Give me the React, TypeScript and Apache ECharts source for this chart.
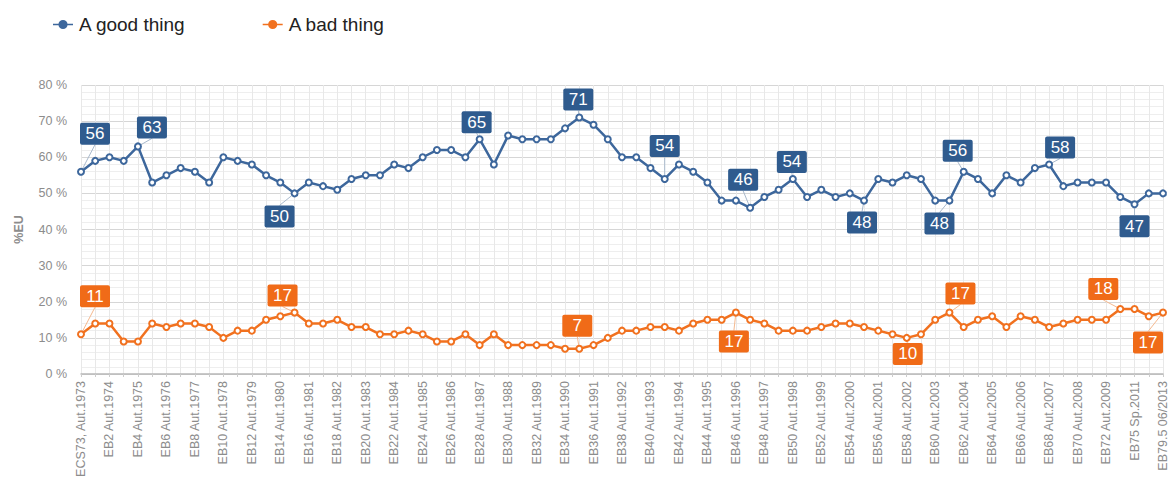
import React, { useEffect, useRef } from "react";
import * as echarts from "echarts";

const tickLabels = [
  "ECS73, Aut.1973", "EB2 Aut.1974", "EB4 Aut.1975", "EB6 Aut.1976", "EB8 Aut.1977",
  "EB10 Aut.1978", "EB12 Aut.1979", "EB14 Aut.1980", "EB16 Aut.1981", "EB18 Aut.1982",
  "EB20 Aut.1983", "EB22 Aut.1984", "EB24 Aut.1985", "EB26 Aut.1986", "EB28 Aut.1987",
  "EB30 Aut.1988", "EB32 Aut.1989", "EB34 Aut.1990", "EB36 Aut.1991", "EB38 Aut.1992",
  "EB40 Aut.1993", "EB42 Aut.1994", "EB44 Aut.1995", "EB46 Aut.1996", "EB48 Aut.1997",
  "EB50 Aut.1998", "EB52 Aut.1999", "EB54 Aut.2000", "EB56 Aut.2001", "EB58 Aut.2002",
  "EB60 Aut.2003", "EB62 Aut.2004", "EB64 Aut.2005", "EB66 Aut.2006", "EB68 Aut.2007",
  "EB70 Aut.2008", "EB72 Aut.2009", "EB75 Sp.2011", "EB79.5 06/2013",
];

const goodThing = [
  56, 59, 60, 59, 63, 53, 55, 57, 56, 53,
  60, 59, 58, 55, 53, 50, 53, 52, 51, 54,
  55, 55, 58, 57, 60, 62, 62, 60, 65, 58,
  66, 65, 65, 65, 68, 71, 69, 65, 60, 60,
  57, 54, 58, 56, 53, 48, 48, 46, 49, 51,
  54, 49, 51, 49, 50, 48, 54, 53, 55, 54,
  48, 48, 56, 54, 50, 55, 53, 57, 58, 52,
  53, 53, 53, 49, 47, 50, 50,
];

const badThing = [
  11, 14, 14, 9, 9, 14, 13, 14, 14, 13,
  10, 12, 12, 15, 16, 17, 14, 14, 15, 13,
  13, 11, 11, 12, 11, 9, 9, 11, 8, 11,
  8, 8, 8, 8, 7, 7, 8, 10, 12, 12,
  13, 13, 12, 14, 15, 15, 17, 15, 14, 12,
  12, 12, 13, 14, 14, 13, 12, 11, 10, 11,
  15, 17, 13, 15, 16, 13, 16, 15, 13, 14,
  15, 15, 15, 18, 18, 16, 17,
];

const yTicks = [0, 10, 20, 30, 40, 50, 60, 70, 80];

// indices of highlighted (boxed) values
const goodCallouts = [0, 4, 15, 28, 35, 41, 47, 50, 55, 61, 62, 68, 74];
const badCallouts = [0, 15, 35, 46, 58, 61, 73, 76];

// label box offsets (layout only)
const goodOffsets: Record<number, [number, number]> = {
  0: [14, -38], 4: [14, -19], 15: [-15, 23], 28: [-3, -17], 35: [-1, -18],
  41: [0, -33], 47: [-7, -28], 50: [-1, -17], 55: [-2, 22], 61: [-10, 23],
  62: [-6, -21], 68: [11, -17], 74: [0, 22],
};
const badOffsets: Record<number, [number, number]> = {
  0: [14, -38], 15: [-12, -17], 35: [-2, -23], 46: [-2, 29], 58: [1, 16],
  61: [11, -19], 73: [-17, -20], 76: [-15, 30],
};

const categories: string[] = [];
for (let i = 0; i < goodThing.length; i++) {
  categories.push(i % 2 === 0 ? tickLabels[i / 2] : "");
}

const BLUE = "#3d679c";
const BLUE_BOX = "#2f5b8e";
const ORANGE = "#f1711f";
const ORANGE_BOX = "#f06b18";

const LEGEND_ICON =
  "path://M0,4.2L5.6,4.2L5.6,5.8L0,5.8Z M14.4,4.2L20,4.2L20,5.8L14.4,5.8Z M14.6,5A4.6,4.6 0 1 1 5.4,5A4.6,4.6 0 1 1 14.6,5Z";

function buildData(values: number[], callouts: number[], box: string) {
  return values.map((v, i) =>
    callouts.includes(i)
      ? {
          value: v,
          label: {
            show: true,
            position: "inside",
            backgroundColor: box,
            color: "#ffffff",
            fontSize: 17,
            fontFamily: "Liberation Sans, Arial, sans-serif",
            width: 20,
            align: "center",
            lineHeight: 17,
            padding: [3, 5, 2, 5],
            borderRadius: 2,
          },
        }
      : v
  );
}

export default function App() {
  const ref = useRef<HTMLDivElement>(null);
  useEffect(() => {
    if (!ref.current) return;
    const chart = echarts.init(ref.current, undefined, { renderer: "svg" });
    chart.setOption({
      animation: false,
      backgroundColor: "#ffffff",
      textStyle: { fontFamily: "Liberation Sans, Arial, sans-serif" },
      legend: {
        left: 48,
        top: 10,
        itemWidth: 20,
        itemHeight: 10,
        itemGap: 77,
        textStyle: { fontSize: 19, color: "#222222", padding: [0, 0, 0, 1] },
        data: [
          { name: "A good thing", icon: LEGEND_ICON, itemStyle: { color: BLUE, borderWidth: 0 } },
          { name: "A bad thing", icon: LEGEND_ICON, itemStyle: { color: ORANGE, borderWidth: 0 } },
        ],
      },
      grid: { left: 81, right: 7, top: 85, bottom: 121, containLabel: false },
      xAxis: {
        type: "category",
        data: categories,
        boundaryGap: false,
        axisLine: { lineStyle: { color: "#b8b8b8", width: 1.5 } },
        axisTick: { show: true, interval: 0, length: 3, lineStyle: { color: "#cccccc" } },
        axisLabel: {
          interval: 1,
          rotate: 90,
          fontSize: 12.5,
          color: "#8c8c8c",
          margin: 7,
        },
        splitLine: { show: true, interval: 0, lineStyle: { color: "#e8e8e8", width: 1 } },
      },
      yAxis: {
        type: "value",
        min: yTicks[0],
        max: yTicks[yTicks.length - 1],
        interval: 10,
        name: "%EU",
        nameLocation: "middle",
        nameGap: 56,
        nameTextStyle: { fontSize: 12.5, color: "#8c8c8c", fontWeight: "bold" },
        axisLine: { show: false },
        axisTick: { show: false },
        axisLabel: { formatter: "{value} %", fontSize: 12.5, color: "#8c8c8c", margin: 14 },
        splitLine: { lineStyle: { color: "#d6d6d6", width: 1 } },
        minorTick: { show: false, splitNumber: 5 },
        minorSplitLine: { show: true, lineStyle: { color: "#eeeeee", width: 1 } },
      },
      series: [
        {
          name: "A good thing",
          type: "line",
          data: buildData(goodThing, goodCallouts, BLUE_BOX),
          color: BLUE,
          symbol: "emptyCircle",
          symbolSize: 6,
          lineStyle: { width: 2.5, color: BLUE },
          itemStyle: { color: BLUE, borderWidth: 1.8 },
          label: { show: false },
          labelLine: { show: true, lineStyle: { color: "#a9b9cc", width: 1 } },
          labelLayout: (p: any) => {
            const o = goodOffsets[p.dataIndex];
            return o ? { dx: o[0], dy: o[1] } : {};
          },
          z: 3,
        },
        {
          name: "A bad thing",
          type: "line",
          data: buildData(badThing, badCallouts, ORANGE_BOX),
          color: ORANGE,
          symbol: "emptyCircle",
          symbolSize: 6,
          lineStyle: { width: 2.5, color: ORANGE },
          itemStyle: { color: ORANGE, borderWidth: 1.8 },
          label: { show: false },
          labelLine: { show: true, lineStyle: { color: "#f5b98f", width: 1 } },
          labelLayout: (p: any) => {
            const o = badOffsets[p.dataIndex];
            return o ? { dx: o[0], dy: o[1] } : {};
          },
          z: 3,
        },
      ],
    });
    return () => chart.dispose();
  }, []);
  return (
    <div
      ref={ref}
      style={{ position: "fixed", left: 0, top: 0, width: 1170, height: 495 }}
    />
  );
}
